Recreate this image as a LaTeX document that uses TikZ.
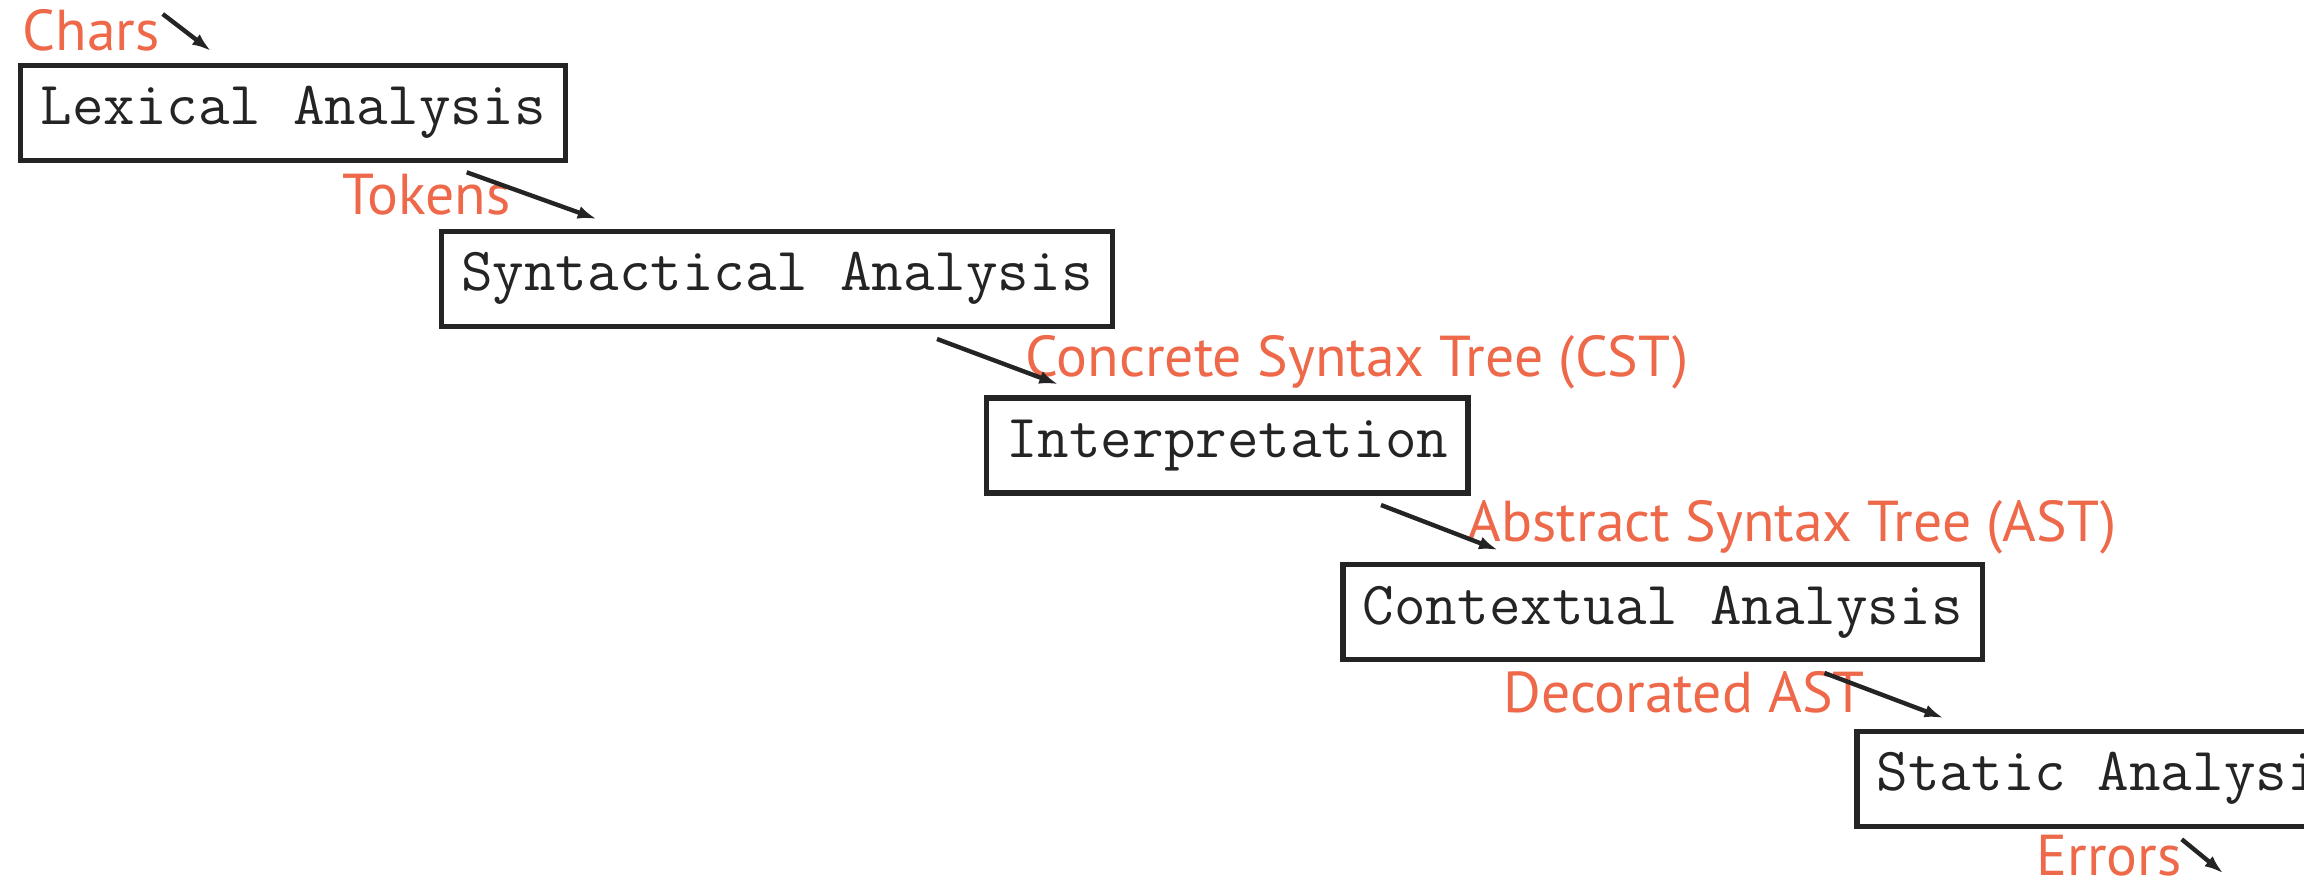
\documentclass[tikz,border=0pt]{standalone}
\usepackage{fontspec}
\usetikzlibrary{arrows.meta}
\newfontfamily\labelfont{PT Sans}
\definecolor{inkdark}{RGB}{36,36,36}
\definecolor{flowlabel}{RGB}{238,104,74}
\tikzset{
  phase/.style={draw=inkdark, line width=1.57pt, anchor=west, inner xsep=0.2cm,
    inner ysep=0pt, minimum height=0.95cm,
    font=\ttfamily\fontsize{17.43pt}{20pt}\selectfont, text=inkdark},
  flow/.style={anchor=base west, inner sep=0pt, text=flowlabel,
    font=\labelfont\fontsize{16.4pt}{19pt}\selectfont},
  hop/.style={draw=inkdark, line width=1.25pt, -{Latex[length=0.19cm,width=0.13cm]}}
}
\begin{document}
\begin{tikzpicture}[x=0.01cm, y=-0.01cm]
\useasboundingbox (0,0) rectangle (2304,882);
\clip (0,0) rectangle (2304,882);

% pipeline stages
\node[phase] (lex)  at (17.8,112.8)  {Lexical Analysis};
\node[phase] (syn)  at (438.5,278.8) {Syntactical Analysis};
\node[phase] (intp) at (983.5,445.5) {Interpretation};
\node[phase] (ctx)  at (1340,612.2)  {Contextual Analysis};
\node[phase] (stat) at (1854,778.8)  {Static Analysis};

% data passed between stages
\node[flow] (lchars)  at (22,51)      {Chars};
\node[flow] (ltokens) at (342,214.3)  {Tokens};
\node[flow] (lcst)    at (1025,376)   {Concrete Syntax Tree (CST)};
\node[flow] (last)    at (1467,541)   {Abstract Syntax Tree (AST)};
\node[flow] (ldast)   at (1503,712.5) {Decorated AST};
\node[flow] (lerr)    at (2036,875.5) {Errors};

% arrow end points
\coordinate (a0) at (162.7,14);   \coordinate (b0) at (211,51);
\coordinate (a1) at (466.7,172.3);\coordinate (b1) at (596.7,219);
\coordinate (a2) at (937,339);    \coordinate (b2) at (1058.3,384.3);
\coordinate (a3) at (1381,505);   \coordinate (b3) at (1498,550);
\coordinate (a4) at (1824.5,673); \coordinate (b4) at (1943.5,718);
\coordinate (a5) at (2181.7,839.3); \coordinate (b5) at (2223.3,873.3);

\foreach \i in {0,...,5} \draw[hop] (a\i) -- (b\i);
\end{tikzpicture}
\end{document}
